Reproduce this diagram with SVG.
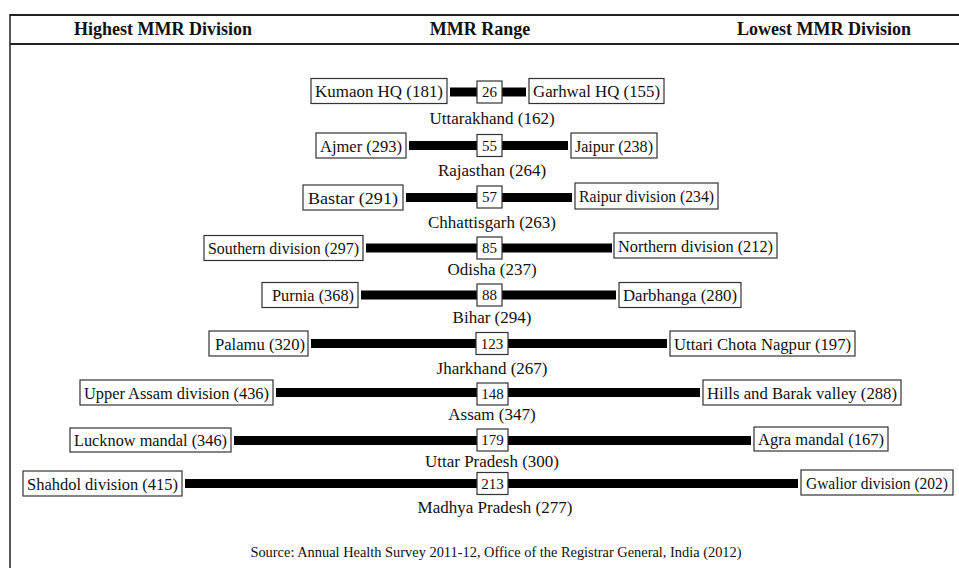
<svg xmlns="http://www.w3.org/2000/svg" width="959" height="568" viewBox="0 0 959 568" font-family="'Liberation Serif','Times New Roman',serif">
<style>
text{font-family:"Liberation Serif","Times New Roman",serif;fill:#111}
.hdr{font-size:18px;font-weight:bold;text-anchor:middle}
.box{fill:#fff;stroke:#333;stroke-width:1.2}
.bar{fill:#000}
.t{font-size:17px;text-anchor:middle}
.n{font-size:15px;text-anchor:middle}
.lbl{font-size:17px;text-anchor:middle}
.src{font-size:14.4px;text-anchor:middle}
.frame{stroke:#222;fill:none}
</style>
<rect width="959" height="568" fill="#fff"/>
<g id="frame">
<line class="frame" x1="10" y1="15" x2="959" y2="15" stroke-width="2"/>
<line class="frame" x1="10" y1="44" x2="959" y2="44" stroke-width="2"/>
<line class="frame" x1="10" y1="14" x2="10" y2="568" stroke-width="1.5"/>
<text class="hdr" x="163" y="35">Highest MMR Division</text>
<text class="hdr" x="480" y="35">MMR Range</text>
<text class="hdr" x="824" y="35">Lowest MMR Division</text>
</g>
<g id="connectors">
<rect class="bar" x="450" y="87.5" width="76" height="9"/>
<rect class="bar" x="409" y="141" width="159" height="9"/>
<rect class="bar" x="406" y="193" width="166" height="9"/>
<rect class="bar" x="366" y="243.5" width="246" height="9"/>
<rect class="bar" x="361" y="290.5" width="255" height="9"/>
<rect class="bar" x="311" y="339" width="356" height="9"/>
<rect class="bar" x="276" y="388" width="424" height="9"/>
<rect class="bar" x="234" y="436" width="517" height="9"/>
<rect class="bar" x="185" y="479" width="613" height="9"/>
</g>
<g id="uttarakhand">
<rect class="box" x="311" y="78.5" width="136" height="25"/><text class="t" x="379" y="97" textLength="128" lengthAdjust="spacingAndGlyphs">Kumaon HQ (181)</text>
<rect class="box" x="477" y="81" width="25" height="22"/><text class="n" x="489.5" y="97">26</text>
<rect class="box" x="529" y="78.5" width="135" height="25"/><text class="t" x="596.5" y="97" textLength="127" lengthAdjust="spacingAndGlyphs">Garhwal HQ (155)</text>
<text class="lbl" x="492" y="124">Uttarakhand (162)</text>
</g>
<g id="rajasthan">
<rect class="box" x="316" y="133" width="90" height="25"/><text class="t" x="361" y="151.5" textLength="82" lengthAdjust="spacingAndGlyphs">Ajmer (293)</text>
<rect class="box" x="477" y="134.5" width="25" height="22"/><text class="n" x="489.5" y="150.5">55</text>
<rect class="box" x="571" y="133" width="86" height="25"/><text class="t" x="614" y="151.5" textLength="78" lengthAdjust="spacingAndGlyphs">Jaipur (238)</text>
<text class="lbl" x="492" y="176">Rajasthan (264)</text>
</g>
<g id="chhattisgarh">
<rect class="box" x="303" y="185" width="100" height="25"/><text class="t" x="353" y="203.5" textLength="90" lengthAdjust="spacingAndGlyphs">Bastar (291)</text>
<rect class="box" x="477" y="186" width="25" height="22"/><text class="n" x="489.5" y="202">57</text>
<rect class="box" x="575" y="183" width="143" height="26"/><text class="t" x="646.5" y="202" textLength="135" lengthAdjust="spacingAndGlyphs">Raipur division (234)</text>
<text class="lbl" x="492" y="228">Chhattisgarh (263)</text>
</g>
<g id="odisha">
<rect class="box" x="204" y="235.5" width="159" height="25"/><text class="t" x="283.5" y="254" textLength="151" lengthAdjust="spacingAndGlyphs">Southern division (297)</text>
<rect class="box" x="477" y="237" width="25" height="22"/><text class="n" x="489.5" y="253">85</text>
<rect class="box" x="614" y="233" width="163" height="25"/><text class="t" x="695.5" y="251.5" textLength="155" lengthAdjust="spacingAndGlyphs">Northern division (212)</text>
<text class="lbl" x="492" y="275">Odisha (237)</text>
</g>
<g id="bihar">
<rect class="box" x="262" y="282.5" width="96" height="25"/><text class="t" x="313" y="301" textLength="82" lengthAdjust="spacingAndGlyphs">Purnia (368)</text>
<rect class="box" x="477" y="284" width="25" height="22"/><text class="n" x="489.5" y="300">88</text>
<rect class="box" x="619" y="282.5" width="122" height="25"/><text class="t" x="680" y="301" textLength="114" lengthAdjust="spacingAndGlyphs">Darbhanga (280)</text>
<text class="lbl" x="492" y="323">Bihar (294)</text>
</g>
<g id="jharkhand">
<rect class="box" x="209" y="331" width="99" height="25"/><text class="t" x="260" y="349.5" textLength="90" lengthAdjust="spacingAndGlyphs">Palamu (320)</text>
<rect class="box" x="476" y="332.5" width="32" height="22"/><text class="n" x="492" y="348.5">123</text>
<rect class="box" x="670" y="331" width="185" height="25"/><text class="t" x="762.5" y="349.5" textLength="177" lengthAdjust="spacingAndGlyphs">Uttari Chota Nagpur (197)</text>
<text class="lbl" x="492" y="374">Jharkhand (267)</text>
</g>
<g id="assam">
<rect class="box" x="80" y="380" width="193" height="25"/><text class="t" x="176.5" y="398.5" textLength="185" lengthAdjust="spacingAndGlyphs">Upper Assam division (436)</text>
<rect class="box" x="477" y="383" width="31" height="22"/><text class="n" x="492.5" y="399">148</text>
<rect class="box" x="703" y="380" width="198" height="25"/><text class="t" x="802" y="398.5" textLength="190" lengthAdjust="spacingAndGlyphs">Hills and Barak valley (288)</text>
<text class="lbl" x="492" y="420">Assam (347)</text>
</g>
<g id="uttar-pradesh">
<rect class="box" x="70" y="428" width="161" height="24"/><text class="t" x="150.5" y="446" textLength="153" lengthAdjust="spacingAndGlyphs">Lucknow mandal (346)</text>
<rect class="box" x="477" y="429" width="31" height="22"/><text class="n" x="492.5" y="445">179</text>
<rect class="box" x="754" y="427" width="134" height="24"/><text class="t" x="821" y="445" textLength="126" lengthAdjust="spacingAndGlyphs">Agra mandal (167)</text>
<text class="lbl" x="492" y="467">Uttar Pradesh (300)</text>
</g>
<g id="madhya-pradesh">
<rect class="box" x="23" y="471" width="159" height="25"/><text class="t" x="102.5" y="489.5" textLength="151" lengthAdjust="spacingAndGlyphs">Shahdol division (415)</text>
<rect class="box" x="477" y="472.5" width="31" height="22"/><text class="n" x="492.5" y="488.5">213</text>
<rect class="box" x="801" y="470" width="152" height="25"/><text class="t" x="877" y="488.5" textLength="142" lengthAdjust="spacingAndGlyphs">Gwalior division (202)</text>
<text class="lbl" x="495" y="513">Madhya Pradesh (277)</text>
</g>
<text class="src" x="496" y="557">Source: Annual Health Survey 2011-12, Office of the Registrar General, India (2012)</text>
</svg>
